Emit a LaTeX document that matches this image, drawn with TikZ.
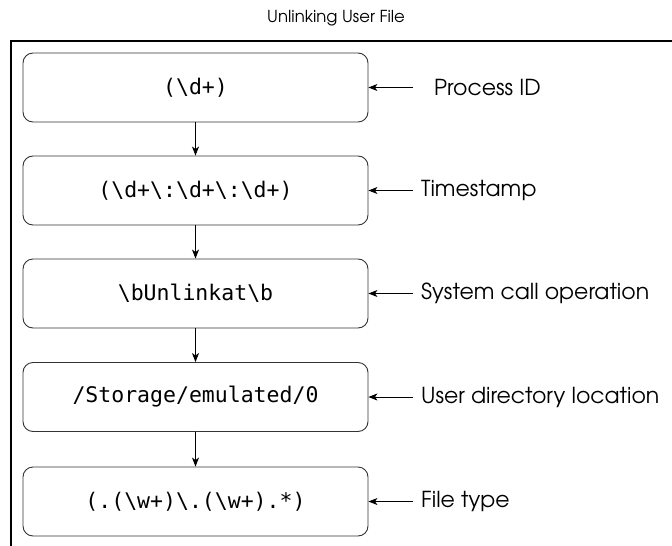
\documentclass[tikz,border=0pt]{standalone}
\usepackage{fontspec}
\setmainfont{texgyreadventor-regular.otf}
\newfontfamily\monof{DejaVu Sans Mono}
\usetikzlibrary{arrows.meta}
\tikzset{
  stepbox/.style={draw=black!80, line width=0.9pt, rounded corners=10pt,
    minimum width=345pt, minimum height=69pt, inner sep=0pt,
    font=\monof\fontsize{21.5}{24}\selectfont},
  lab/.style={anchor=west, inner sep=0pt, font=\fontsize{22}{24}\selectfont},
  arr/.style={-{Stealth[width=7pt,length=9pt,inset=2.5pt]}, line width=0.8pt},
}
\begin{document}
\begin{tikzpicture}[x=1pt,y=-1pt]
\useasboundingbox (0,0) rectangle (672,546);
\node[inner sep=0pt, font=\fontsize{16.5}{18}\selectfont] (title) at (336,18) {Unlinking User File};
\draw[line width=2.5pt] (11,546) -- (11,41) -- (672,41);
\node[stepbox] (b1) at (195.5,87.5) {(\textbackslash d+)};
\node[stepbox] (b2) at (195.5,190.5) {(\textbackslash d+\textbackslash :\textbackslash d+\textbackslash :\textbackslash d+)};
\node[stepbox] (b3) at (195.5,293.5) {\textbackslash bUnlinkat\textbackslash b};
\node[stepbox] (b4) at (195.5,397) {/Storage/emulated/0};
\node[stepbox] (b5) at (195.5,501.5) {(.(\textbackslash w+)\textbackslash .(\textbackslash w+).*)};
\draw[arr] (b1) -- (b2);
\draw[arr] (b2) -- (b3);
\draw[arr] (b3) -- (b4);
\draw[arr] (b4) -- (b5);
\coordinate (c1) at (413,87.5);
\coordinate (c2) at (413,190.5);
\coordinate (c3) at (413,293.5);
\coordinate (c4) at (413,397);
\coordinate (c5) at (413,501.5);
\node[lab] (l1) at (434,87.5) {Process ID};
\node[lab] (l2) at (421,190.5) {Timestamp};
\node[lab] (l3) at (421,293.5) {System call operation};
\node[lab] (l4) at (421,397) {User directory location};
\node[lab] (l5) at (421,501.5) {File type};
\draw[arr] (c1) -- (b1.east);
\draw[arr] (c2) -- (b2.east);
\draw[arr] (c3) -- (b3.east);
\draw[arr] (c4) -- (b4.east);
\draw[arr] (c5) -- (b5.east);
\end{tikzpicture}
\end{document}
